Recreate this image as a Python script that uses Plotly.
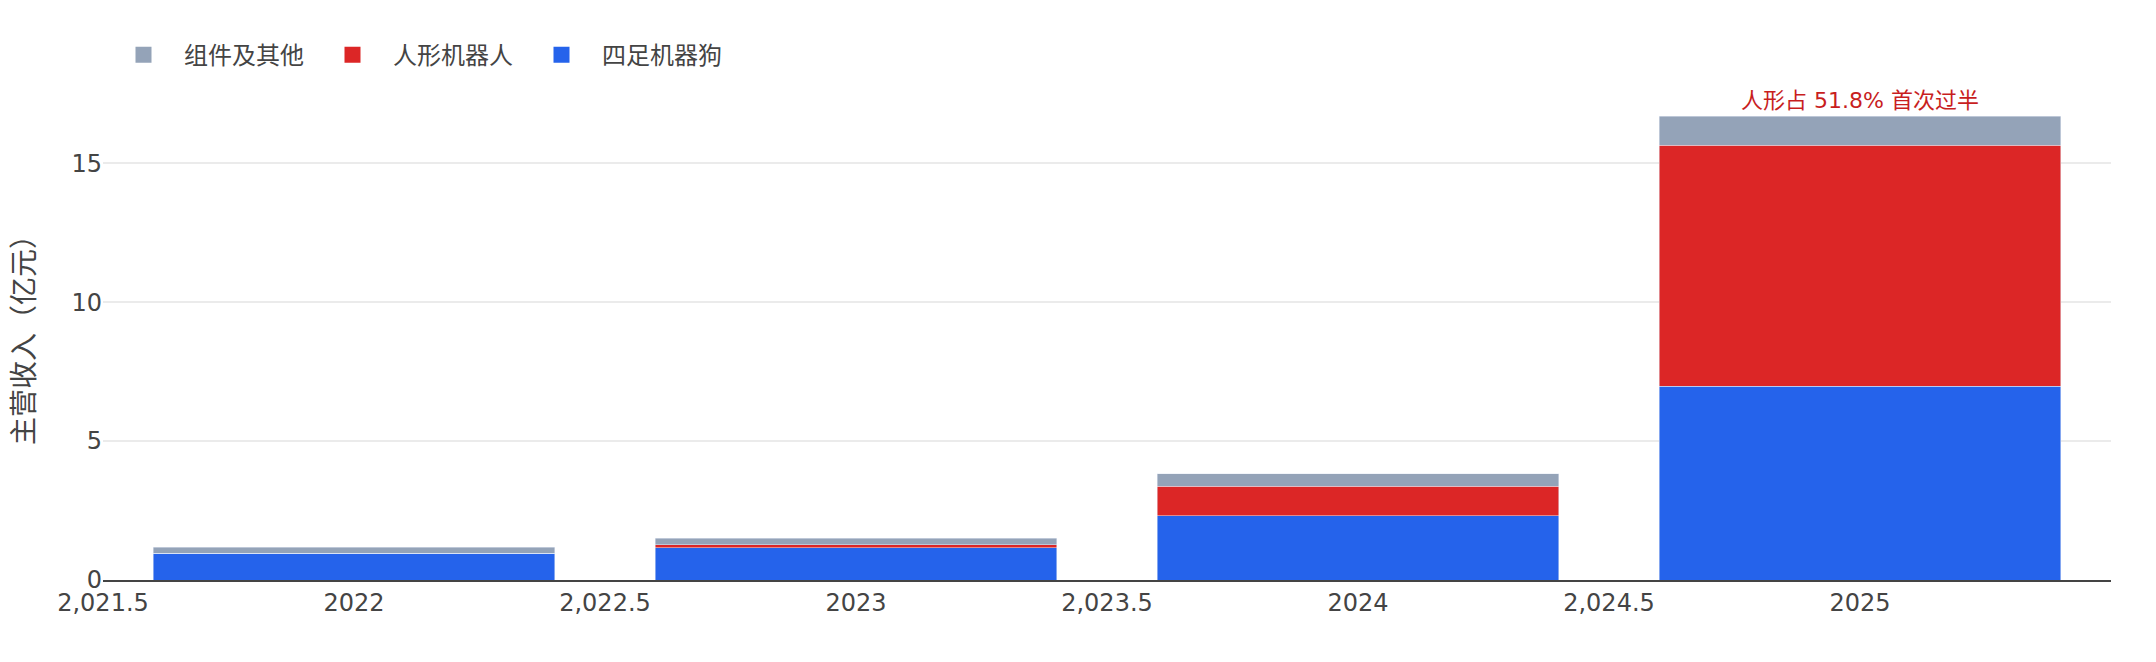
import plotly.graph_objects as go

# revenue split by product line, unit: 100M CNY
years = [2022, 2023, 2024, 2025]
dog = [0.96, 1.16, 2.31, 6.98]
humanoid = [0.0, 0.10, 1.06, 8.66]
other = [0.21, 0.24, 0.46, 1.06]

names = ["四足机器狗", "人形机器人", "组件及其他"]
colors = ["#2563eb", "#dc2626", "#94a3b8"]
note = "人形占 51.8% 首次过半"

fig = go.Figure()
for name, vals, c in zip(names, [dog, humanoid, other], colors):
    fig.add_trace(go.Bar(x=years, y=vals, name=name, marker_color=c,
                         showlegend=False))
    # legend swatch only (bigger square than the bar default)
    fig.add_trace(go.Scatter(x=[None], y=[None], mode="markers", name=name,
                             marker=dict(symbol="square", size=23, color=c)))

total_2025 = dog[-1] + humanoid[-1] + other[-1]
fig.add_annotation(x=years[-1], y=total_2025, text=note, showarrow=False,
                   yanchor="bottom", yshift=1,
                   font=dict(size=22, color="#c81e1e"))

fig.update_layout(
    barmode="stack",
    font=dict(family="DejaVu Sans, Noto Sans CJK SC", size=24, color="#444"),
    plot_bgcolor="white",
    paper_bgcolor="white",
    margin=dict(l=95, r=37, t=78, b=74, autoexpand=False),
    legend=dict(orientation="h", x=0, xanchor="left",
                yref="container", y=0.927, yanchor="middle",
                traceorder="reversed", itemwidth=71, entrywidth=123,
                font=dict(size=24)),
    yaxis=dict(title=dict(text="主营收入（亿元）", font=dict(size=28), standoff=38),
               automargin=False,
               gridcolor="#ebebeb", gridwidth=2, zeroline=False,
               showline=False, dtick=5, tick0=0),
    xaxis=dict(showline=True, linecolor="#444", linewidth=2, showgrid=False,
               automargin=False,
               zeroline=False, tickmode="linear", tick0=2021.5, dtick=0.5),
)

fig.write_html("out.html")
